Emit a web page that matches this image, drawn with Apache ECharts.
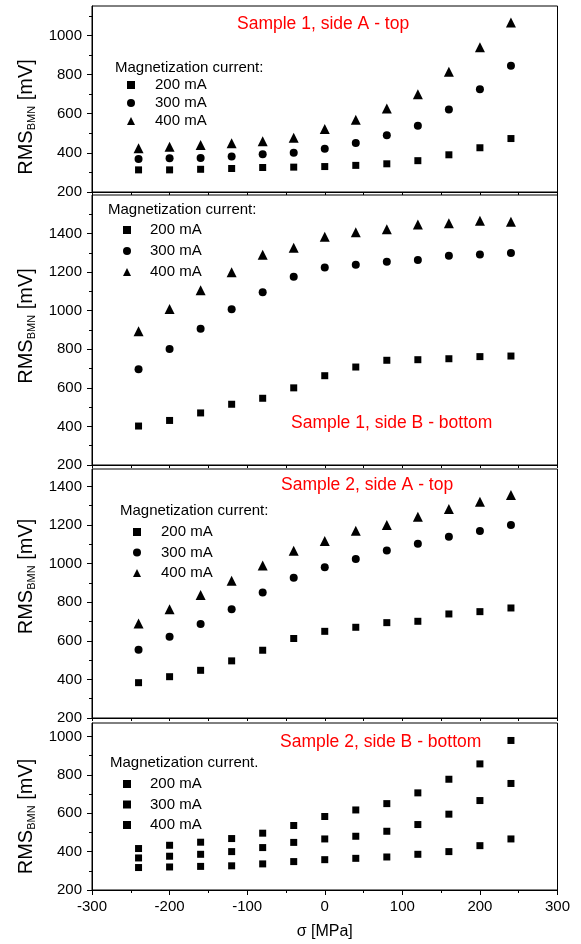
<!DOCTYPE html>
<html>
<head>
<meta charset="utf-8">
<script src="https://cdn.jsdelivr.net/npm/echarts@6/dist/echarts.min.js"></script>
<style>html,body{margin:0;padding:0;background:#fff;}#c{width:581px;height:944px;}</style>
</head>
<body>
<div id="c"></div>
<script>
// ---- data ----
const sigma = [-240, -200, -160, -120, -80, -40, 0, 40, 80, 120, 160, 200, 240];
const currents = ['200 mA', '300 mA', '400 mA'];
const panelTitles = ['Sample 1, side A - top', 'Sample 1, side B - bottom', 'Sample 2, side A - top', 'Sample 2, side B - bottom'];
const legendHeaders = ['Magnetization current:', 'Magnetization current:', 'Magnetization current:', 'Magnetization current.'];
const s1a_200 = [313, 313, 316, 320, 325, 327, 330, 336, 344, 360, 390, 426, 473];
const s1a_300 = [369, 372, 374, 381, 393, 400, 421, 450, 490, 539, 621, 725, 845];
const s1a_400 = [423, 431, 440, 449, 459, 477, 522, 569, 626, 699, 814, 939, 1066];
const s1b_200 = [402, 431, 470, 515, 546, 600, 663, 708, 743, 746, 751, 762, 765];
const s1b_300 = [697, 802, 906, 1007, 1096, 1176, 1224, 1238, 1254, 1263, 1285, 1292, 1299];
const s1b_400 = [894, 1009, 1106, 1200, 1290, 1327, 1383, 1407, 1423, 1447, 1454, 1466, 1461];
const s2a_200 = [383, 414, 447, 496, 551, 612, 649, 670, 694, 701, 739, 751, 770];
const s2a_300 = [553, 621, 687, 763, 850, 927, 981, 1024, 1068, 1103, 1139, 1169, 1200];
const s2a_400 = [690, 763, 837, 911, 990, 1066, 1117, 1170, 1200, 1243, 1283, 1320, 1355];
const s2b_200 = [317, 320, 323, 326, 336, 348, 358, 365, 372, 386, 400, 431, 466];
const s2b_300 = [367, 376, 386, 400, 421, 448, 466, 480, 506, 541, 595, 666, 755];
const s2b_400 = [416, 433, 449, 468, 496, 536, 583, 617, 650, 706, 777, 857, 979];
const xTicks = [-300, -200, -100, 0, 100, 200, 300];
const yMajor = [200, 400, 600, 800, 1000, 1200, 1400];
const yMinor = [300, 500, 700, 900, 1100, 1300, 1500];
const yMax = [1150, 1600, 1490, 1070];

const panelData = [
  [s1a_200, s1a_300, s1a_400],
  [s1b_200, s1b_300, s1b_400],
  [s2a_200, s2a_300, s2a_400],
  [s2b_200, s2b_300, s2b_400]
];
const panelSymbols = [
  ['rect', 'circle', 'triangle'],
  ['rect', 'circle', 'triangle'],
  ['rect', 'circle', 'triangle'],
  ['rect', 'rect', 'rect']
];

// ---- layout (styling only) ----
const FF = '"Liberation Sans", Arial, sans-serif';
const grids = [
  { top: 6, height: 186 },
  { top: 195, height: 270 },
  { top: 469, height: 249 },
  { top: 723, height: 167 }
];
const titlePos = [[237, 14], [291, 413], [281, 475], [280, 732]];
const headerPos = [[115, 59], [108, 201], [120, 502], [110, 754]];
const legendPos = [
  { left: 127, top: 77, gap: 2, pad: 15 },
  { left: 123, top: 222, gap: 5, pad: 14 },
  { left: 133, top: 524, gap: 4.5, pad: 15 },
  { left: 123, top: 776, gap: 4.5, pad: 14 }
];
// padding along the rotated y-name (left pad moves it up, right pad moves it down)
const namePad = [[0, 36, 0, 0], [0, 0, 0, 8], [0, 0, 0, 34], [0, 20, 0, 0]];
const symSize = { rect: 7, circle: 8, triangle: 10 };

const option = {
  animation: false,
  backgroundColor: '#fff',
  textStyle: { fontFamily: FF },
  grid: grids.map(g => ({ left: 92, right: 23.5, top: g.top, height: g.height, show: true, borderColor: '#000', borderWidth: 1, backgroundColor: 'transparent' })),
  title: [],
  legend: [],
  xAxis: [],
  yAxis: [],
  series: []
};

for (let p = 0; p < 4; p++) {
  const last = p === 3;
  option.xAxis.push({
    type: 'value', gridIndex: p, min: -300, max: 300, interval: 100,
    axisLine: { show: true, onZero: false, lineStyle: { color: '#000', width: 1 } },
    axisTick: { show: true, inside: false, length: last ? 5 : 3, lineStyle: { color: '#000' } },
    minorTick: { show: true, splitNumber: 2, length: 3, lineStyle: { color: '#000' } },
    splitLine: { show: false },
    axisLabel: { show: last, color: '#000', fontSize: 15, margin: 9, fontFamily: FF, formatter: v => String(v) },
    name: last ? 'σ [MPa]' : '', nameLocation: 'middle', nameGap: 34,
    nameTextStyle: { color: '#000', fontSize: 16, fontFamily: FF }
  });
  const major = yMajor.filter(v => v <= yMax[p]);
  const minor = yMinor.filter(v => v <= yMax[p]);
  option.yAxis.push({
    type: 'value', gridIndex: p, min: 200, max: yMax[p],
    axisLine: { show: true, onZero: false, lineStyle: { color: '#000', width: 1 } },
    axisTick: { show: true, length: 5, customValues: major, lineStyle: { color: '#000' } },
    axisLabel: { color: '#000', fontSize: 15, margin: 10, fontFamily: FF, customValues: major, formatter: v => String(v) },
    splitLine: { show: false },
    name: '{a|RMS}{s|BMN}{a| [mV]}', nameLocation: 'middle', nameGap: 53, nameRotate: 90,
    nameTextStyle: {
      color: '#000', fontFamily: FF, padding: namePad[p],
      rich: {
        a: { fontSize: 20, fontFamily: FF, color: '#000', lineHeight: 22 },
        s: { fontSize: 11, fontFamily: FF, color: '#000', lineHeight: 11, verticalAlign: 'bottom' }
      }
    }
  });
  option.yAxis.push({
    type: 'value', gridIndex: p, min: 200, max: yMax[p], position: 'left',
    axisLine: { show: false, onZero: false },
    axisTick: { show: true, length: 3, customValues: minor, lineStyle: { color: '#000' } },
    axisLabel: { show: false },
    splitLine: { show: false }
  });
  option.title.push({
    text: panelTitles[p], left: titlePos[p][0], top: titlePos[p][1], padding: 0,
    textStyle: { color: '#ff0000', fontSize: 17.5, fontWeight: 'normal', lineHeight: 20, fontFamily: FF }
  });
  option.title.push({
    text: legendHeaders[p], left: headerPos[p][0], top: headerPos[p][1], padding: 0,
    textStyle: { color: '#000', fontSize: 15, fontWeight: 'normal', lineHeight: 18, fontFamily: FF }
  });
  const lp = legendPos[p];
  option.legend.push({
    orient: 'vertical', left: lp.left, top: lp.top, padding: 0, itemGap: lp.gap,
    itemWidth: 8, itemHeight: 8, selectedMode: false,
    data: currents.map((c, k) => ({ name: c, icon: panelSymbols[p][k] })),
    textStyle: { color: '#000', fontSize: 15, fontFamily: FF, lineHeight: 16, padding: [0, 0, 0, lp.pad] }
  });
  for (let k = 0; k < 3; k++) {
    const sym = panelSymbols[p][k];
    option.series.push({
      type: 'scatter', name: currents[k], xAxisIndex: p, yAxisIndex: p * 2,
      symbol: sym, symbolSize: symSize[sym],
      itemStyle: { color: '#000', opacity: 1 },
      data: sigma.map((x, i) => [x, panelData[p][k][i]])
    });
  }
}

const chart = echarts.init(document.getElementById('c'), null, { renderer: 'canvas' });
chart.setOption(option);
</script>
</body>
</html>
